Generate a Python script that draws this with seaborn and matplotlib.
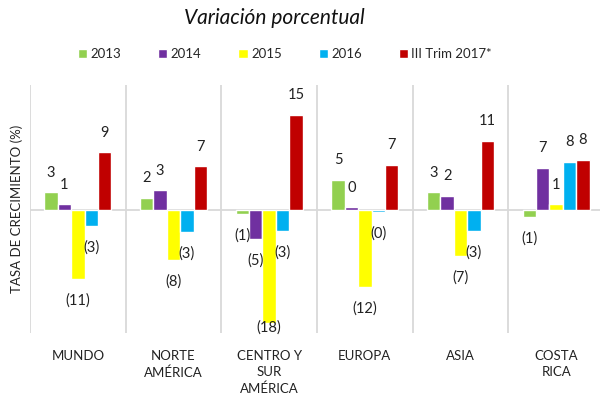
import numpy as np
import pandas as pd
import seaborn as sns
import matplotlib.pyplot as plt
from matplotlib.patches import Patch

sns.set_style('white')
plt.rcParams['font.family'] = ['Lato', 'DejaVu Sans']

# data
regiones = ['MUNDO', 'NORTE\nAMÉRICA', 'CENTRO Y\nSUR\nAMÉRICA', 'EUROPA', 'ASIA', 'COSTA\nRICA']
series   = ['2013', '2014', '2015', '2016', 'III Trim 2017*']
v2013 = [2.8, 1.9, -0.7, 4.7, 2.8, -1.1]
v2014 = [0.9, 3.1, -4.6, 0.4, 2.2, 6.6]
v2015 = [-10.9, -7.9, -17.8, -12.1, -7.2, 0.9]
v2016 = [-2.6, -3.4, -3.3, -0.3, -3.3, 7.6]
v2017 = [9.1, 6.9, 15.0, 7.1, 10.9, 7.9]
colores = ['#92D050', '#7030A0', '#FFFF00', '#00B0F0', '#C00000']

vals = [v2013, v2014, v2015, v2016, v2017]
df = pd.DataFrame({
    'region': np.tile(regiones, len(series)),
    'serie': np.repeat(series, len(regiones)),
    'valor': np.concatenate(vals),
})

fig = plt.figure(figsize=(6, 4.03), dpi=100)
ax = fig.add_axes([0.05, 0.1737, 0.9567, 0.6154])

sns.barplot(data=df, x='region', y='valor', hue='serie', order=regiones,
            hue_order=series, palette=colores, width=0.7, saturation=1,
            errorbar=None, legend=False, ax=ax)

ymin, ymax = -19.4, 19.7

# data labels (kept inside the plot area like excel does)
for cont in ax.containers:
    for bar in cont:
        h = bar.get_height()
        r = int(round(abs(h)))
        txt = '%d' % r if h >= 0 else '(%d)' % r
        yl = h + 3.1 if h >= 0 else max(h - 3.4, ymin + 0.8)
        ax.text(bar.get_x() + bar.get_width() / 2, yl, txt,
                ha='center', va='center', fontsize=10.5, color='#222222')

for xv in np.arange(-0.5, 6.0, 1.0):
    ax.axvline(xv, color='#d9d9d9', lw=1.3, zorder=0)
ax.axhline(0, color='#d9d9d9', lw=1.3, zorder=0)

ax.set_xlim(-0.5, 5.5)
ax.set_ylim(ymin, ymax)
ax.set_yticks([])
ax.tick_params(axis='x', length=0, pad=12, labelsize=9.5, colors='#222222')
for t in ax.get_xticklabels():
    t.set_linespacing(1.45)
ax.set_xlabel('')
ax.set_ylabel('TASA DE CRECIMIENTO (%)', fontsize=9.5, labelpad=5, color='#222222')
for s in ax.spines.values():
    s.set_visible(False)

proxies = [Patch(facecolor=c, label=l) for c, l in zip(colores, series)]
fig.legend(handles=proxies, loc='center', bbox_to_anchor=(0.475, 0.866), ncol=5,
           frameon=False, fontsize=9.5, handlelength=0.7, handleheight=0.7,
           handletextpad=0.25, columnspacing=2.8)

fig.suptitle('Variación porcentual', x=0.458, y=0.98, fontsize=15, style='italic', color='#111111')

fig.savefig('out.png', dpi=100)
